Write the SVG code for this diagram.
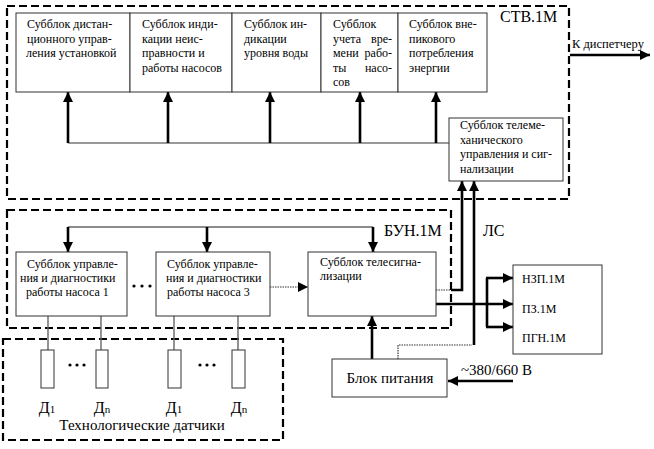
<svg xmlns="http://www.w3.org/2000/svg" width="654" height="449" viewBox="0 0 654 449">
<style>
text{font-family:'Liberation Serif','Times New Roman',serif;fill:#000}
.t{font-size:12px}
.lbl{font-size:16px}
.big{font-size:15px}
.box{fill:#fff;stroke:#333;stroke-width:1}
.dash{fill:none;stroke:#000;stroke-width:2.2;stroke-dasharray:8,4}
.thick{fill:none;stroke:#000;stroke-width:2.6}
.thin{fill:none;stroke:#333;stroke-width:1.2}
.gray{fill:none;stroke:#666;stroke-width:1.4}
.dot{fill:none;stroke:#333;stroke-width:1.2;stroke-dasharray:1.5,1}
</style>
<defs>
<marker id="ah" markerUnits="userSpaceOnUse" markerWidth="10" markerHeight="10" refX="10" refY="5" orient="auto">
<path d="M0,0 L10,5 L0,10 z" fill="#000"/>
</marker>
</defs>
<rect width="654" height="449" fill="#fff"/>

<g id="stv">
<rect class="dash" x="7" y="6" width="562" height="193"/>
<text class="lbl" x="500" y="22">СТВ.1М</text>
</g>
<g id="bun">
<rect class="dash" x="7" y="210" width="444" height="118"/>
<text class="lbl" x="384" y="236">БУН.1М</text>
</g>
<g id="sensors">
<rect class="dash" x="3" y="339" width="280" height="101"/>
<text class="big" x="142" y="430" text-anchor="middle">Технологические датчики</text>
</g>

<g id="connectors">
<polyline class="thin" points="68,143 449,143"/>
<line class="thick" x1="68" y1="143" x2="68" y2="92" marker-end="url(#ah)"/>
<line class="thick" x1="168" y1="143" x2="168" y2="92" marker-end="url(#ah)"/>
<line class="thick" x1="270" y1="143" x2="270" y2="92" marker-end="url(#ah)"/>
<line class="thick" x1="360" y1="143" x2="360" y2="92" marker-end="url(#ah)"/>
<line class="thick" x1="436" y1="143" x2="436" y2="92" marker-end="url(#ah)"/>
<line class="thick" x1="570" y1="55" x2="650" y2="55" marker-end="url(#ah)"/>
<polyline class="gray" points="68,227 373,227"/>
<line class="thick" x1="68" y1="227" x2="68" y2="252" marker-end="url(#ah)"/>
<line class="thick" x1="207" y1="227" x2="207" y2="252" marker-end="url(#ah)"/>
<line class="thick" x1="373" y1="227" x2="373" y2="252" marker-end="url(#ah)"/>
<line class="dot" x1="270" y1="287" x2="308" y2="287" marker-end="url(#ah)"/>
<polyline class="dot" points="436,290 452,290"/>
<polyline class="thick" points="451,290 462,290 462,181" marker-end="url(#ah)"/>
<polyline class="dot" points="398,359 398,345 472,345"/>
<polyline class="thick" points="474,345 474,181" marker-end="url(#ah)"/>
<line class="thick" x1="372" y1="359" x2="372" y2="316" marker-end="url(#ah)"/>
<line class="thick" x1="436" y1="304" x2="513" y2="304" marker-end="url(#ah)"/>
<polyline class="thick" points="487,278 487,327"/>
<line class="thick" x1="486" y1="278" x2="513" y2="278" marker-end="url(#ah)"/>
<line class="thick" x1="486" y1="327" x2="513" y2="327" marker-end="url(#ah)"/>
<line class="thick" x1="513" y1="381" x2="448" y2="381" marker-end="url(#ah)"/>
<line class="gray" x1="48" y1="316" x2="48" y2="350"/>
<line class="gray" x1="101" y1="316" x2="101" y2="350"/>
<line class="gray" x1="174" y1="316" x2="174" y2="350"/>
<line class="gray" x1="238" y1="316" x2="238" y2="350"/>
</g>

<g id="sub1">
<rect class="box" x="16" y="13" width="114" height="79"/>
<text class="t"><tspan x="27" y="28">Субблок дистан-</tspan><tspan x="27" y="42.5">ционного управ-</tspan><tspan x="26" y="57">ления установкой</tspan></text>
</g>
<g id="sub2">
<rect class="box" x="130" y="13" width="102" height="79"/>
<text class="t"><tspan x="142" y="28">Субблок инди-</tspan><tspan x="142" y="42.5">кации неис-</tspan><tspan x="142" y="57">правности и</tspan><tspan x="142" y="71.5">работы насосов</tspan></text>
</g>
<g id="sub3">
<rect class="box" x="232" y="13" width="89" height="79"/>
<text class="t"><tspan x="244" y="28">Субблок ин-</tspan><tspan x="244" y="42.5">дикации</tspan><tspan x="244" y="57">уровня воды</tspan></text>
</g>
<g id="sub4">
<rect class="box" x="321" y="13" width="77" height="79"/>
<text class="t" x="333" y="28">Субблок</text>
<text class="t" x="333" y="42.5">учета</text><text class="t" x="392" y="42.5" text-anchor="end">вре-</text>
<text class="t" x="333" y="57">мени</text><text class="t" x="392" y="57" text-anchor="end">рабо-</text>
<text class="t" x="333" y="71.5">ты</text><text class="t" x="392" y="71.5" text-anchor="end">насо-</text>
<text class="t" x="333" y="86">сов</text>
</g>
<g id="sub5">
<rect class="box" x="398" y="13" width="89" height="79"/>
<text class="t"><tspan x="409" y="28">Субблок вне-</tspan><tspan x="409" y="42.5">пикового</tspan><tspan x="409" y="57">потребления</tspan><tspan x="409" y="71.5">энергии</tspan></text>
</g>
<g id="telemech">
<rect class="box" x="449" y="118" width="114" height="63"/>
<text class="t"><tspan x="460" y="129">Субблок телеме-</tspan><tspan x="460" y="143.5">ханического</tspan><tspan x="460" y="158">управления и сиг-</tspan><tspan x="460" y="172.5">нализации</tspan></text>
</g>
<g id="dispatcher">
<text x="572" y="48" style="font-size:12.5px">К диспетчеру</text>
</g>

<g id="pump1">
<rect class="box" x="16" y="252" width="111" height="64"/>
<text class="t"><tspan x="27" y="268">Субблок управле-</tspan><tspan x="20" y="282">ния и диагностики</tspan><tspan x="26" y="296">работы насоса 1</tspan></text>
</g>
<g id="dots1">
<circle cx="134" cy="286" r="1.6"/><circle cx="142" cy="286" r="1.6"/><circle cx="150" cy="286" r="1.6"/>
</g>
<g id="pump3">
<rect class="box" x="156" y="252" width="114" height="64"/>
<text class="t"><tspan x="167" y="268">Субблок управле-</tspan><tspan x="166" y="282">ния и диагностики</tspan><tspan x="167" y="296">работы насоса 3</tspan></text>
</g>
<g id="telesig">
<rect class="box" x="308" y="252" width="128" height="64"/>
<text class="t"><tspan x="320" y="266">Субблок телесигна-</tspan><tspan x="320" y="280">лизации</tspan></text>
</g>
<g id="ls">
<text class="lbl" x="483" y="236">ЛС</text>
</g>
<g id="outs">
<rect class="box" x="513" y="265" width="89" height="89"/>
<text class="t"><tspan x="522" y="283">НЗП.1М</tspan><tspan x="522" y="313">ПЗ.1М</tspan><tspan x="522" y="342">ПГН.1М</tspan></text>
</g>
<g id="power">
<rect class="box" x="332" y="359" width="115" height="38"/>
<text class="big" x="390" y="383" text-anchor="middle">Блок питания</text>
<text class="big" x="461" y="375">~380/660 В</text>
</g>

<g id="d1a">
<rect class="box" x="41" y="350" width="13" height="38"/>
<text class="lbl" x="47" y="413" text-anchor="middle">Д<tspan style="font-size:11px">1</tspan></text>
</g>
<g id="dna">
<rect class="box" x="96" y="350" width="12" height="38"/>
<text class="lbl" x="102" y="413" text-anchor="middle">Д<tspan style="font-size:11px">n</tspan></text>
</g>
<g id="d1b">
<rect class="box" x="168" y="350" width="13" height="38"/>
<text class="lbl" x="174" y="413" text-anchor="middle">Д<tspan style="font-size:11px">1</tspan></text>
</g>
<g id="dnb">
<rect class="box" x="232" y="350" width="13" height="38"/>
<text class="lbl" x="239" y="413" text-anchor="middle">Д<tspan style="font-size:11px">n</tspan></text>
</g>
<g id="dots2">
<circle cx="70" cy="365" r="1.6"/><circle cx="77" cy="365" r="1.6"/><circle cx="84" cy="365" r="1.6"/>
<circle cx="200" cy="365" r="1.6"/><circle cx="207" cy="365" r="1.6"/><circle cx="214" cy="365" r="1.6"/>
</g>
</svg>
